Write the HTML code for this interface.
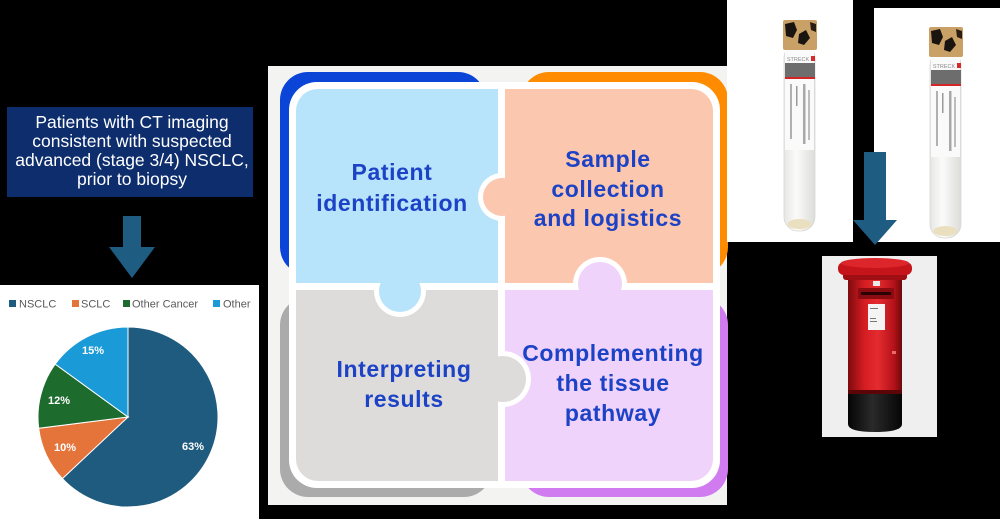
<!DOCTYPE html>
<html><head><meta charset="utf-8"><style>
html,body{margin:0;padding:0;background:#000;}
svg{display:block}
</style></head><body>
<svg width="1000" height="519" viewBox="0 0 1000 519" xmlns="http://www.w3.org/2000/svg">
<defs>
 <clipPath id="cBlue"><rect x="370" y="283" width="60" height="50"/></clipPath>
 <clipPath id="cPeach"><rect x="465" y="165" width="40" height="65"/></clipPath>
 <clipPath id="cPurple"><rect x="565" y="250" width="70" height="40"/></clipPath>
 <clipPath id="cGray"><rect x="498" y="345" width="40" height="70"/></clipPath>
 <linearGradient id="pbBody" x1="0" x2="1" y1="0" y2="0">
  <stop offset="0" stop-color="#7e0a0e"/><stop offset="0.3" stop-color="#d41d22"/>
  <stop offset="0.55" stop-color="#e42b2f"/><stop offset="0.85" stop-color="#b5121a"/>
  <stop offset="1" stop-color="#6e080b"/>
 </linearGradient>
 <linearGradient id="pbBase" x1="0" x2="1" y1="0" y2="0">
  <stop offset="0" stop-color="#050505"/><stop offset="0.45" stop-color="#2a2a2a"/>
  <stop offset="1" stop-color="#060606"/>
 </linearGradient>
 <linearGradient id="tubeG" x1="0" x2="1" y1="0" y2="0">
  <stop offset="0" stop-color="#e6e6e3"/><stop offset="0.4" stop-color="#fbfbfa"/>
  <stop offset="1" stop-color="#dcdcd8"/>
 </linearGradient>
</defs>
<rect width="1000" height="519" fill="#000"/>

<!-- Left: patient box -->
<rect x="7" y="107" width="246" height="90" fill="#0d2d6c"/>
<g font-family="Liberation Sans, Arial, sans-serif" font-size="17.5" fill="#ffffff" text-anchor="middle">
 <text x="132" y="128">Patients with CT imaging</text>
 <text x="132" y="147">consistent with suspected</text>
 <text x="132" y="166">advanced (stage 3/4) NSCLC,</text>
 <text x="132" y="185">prior to biopsy</text>
</g>
<!-- Left arrow -->
<polygon points="123,216 141,216 141,247 155,247 132,278 109,247 123,247" fill="#1f5c82"/>

<!-- Pie chart -->
<rect x="0" y="285" width="259" height="234" fill="#ffffff"/>
<g font-family="Liberation Sans, Arial, sans-serif" font-size="11" fill="#595959">
 <rect x="9" y="300" width="7" height="7" fill="#1f5b7f"/><text x="19" y="307.5">NSCLC</text>
 <rect x="72" y="300" width="7" height="7" fill="#e5743b"/><text x="81" y="307.5">SCLC</text>
 <rect x="123" y="300" width="7" height="7" fill="#1e6b2e"/><text x="132" y="307.5">Other Cancer</text>
 <rect x="213" y="300" width="7" height="7" fill="#1a9ad6"/><text x="223" y="307.5">Other</text>
</g>
<g stroke="#ffffff" stroke-width="1">
 <path d="M128,417 L128,327 A90,90 0 1 1 62.4,478.6 Z" fill="#1f5b7f"/>
 <path d="M128,417 L62.4,478.6 A90,90 0 0 1 38.7,428.3 Z" fill="#e5743b"/>
 <path d="M128,417 L38.7,428.3 A90,90 0 0 1 55.2,364.1 Z" fill="#1e6b2e"/>
 <path d="M128,417 L55.2,364.1 A90,90 0 0 1 128,327 Z" fill="#1a9ad6"/>
</g>
<g font-family="Liberation Sans, Arial, sans-serif" font-size="11" font-weight="bold" fill="#ffffff" text-anchor="middle">
 <text x="193" y="450">63%</text>
 <text x="65" y="451">10%</text>
 <text x="59" y="404">12%</text>
 <text x="93" y="354">15%</text>
</g>

<!-- Puzzle panel -->
<rect x="268" y="66" width="459" height="439" fill="#f3f3f2"/>
<rect x="280" y="72" width="206" height="203" rx="28" fill="#0a45d8"/>
<rect x="521" y="72" width="207" height="203" rx="28" fill="#ff8c00"/>
<rect x="280" y="297" width="212" height="200" rx="28" fill="#ababab"/>
<rect x="521" y="297" width="207" height="200" rx="28" fill="#d07cf0"/>
<rect x="289" y="82" width="431" height="406" rx="28" fill="#ffffff"/>

<path d="M296,283 V111 A22,22 0 0 1 318,89 H498 V283 Z" fill="#b7e3fb"/>
<path d="M505,89 H691 A22,22 0 0 1 713,111 V283 H505 Z" fill="#fbc7ae"/>
<path d="M296,290 H498 V481 H318 A22,22 0 0 1 296,459 Z" fill="#dedcda"/>
<path d="M505,290 H713 V459 A22,22 0 0 1 691,481 H505 Z" fill="#efd3fb"/>

<!-- knobs -->
<g clip-path="url(#cBlue)"><circle cx="400" cy="291" r="26" fill="#fff"/><circle cx="400" cy="291" r="21" fill="#b7e3fb"/></g>
<g clip-path="url(#cPeach)"><circle cx="502" cy="197" r="24" fill="#fff"/><circle cx="502" cy="197" r="19" fill="#fbc7ae"/></g>
<g clip-path="url(#cPurple)"><circle cx="600" cy="284" r="27" fill="#fff"/><circle cx="600" cy="284" r="22" fill="#efd3fb"/></g>
<g clip-path="url(#cGray)"><circle cx="503" cy="379" r="28" fill="#fff"/><circle cx="503" cy="379" r="23" fill="#dedcda"/></g>

<g font-family="Liberation Sans, Arial, sans-serif" font-size="23" font-weight="bold" fill="#1c42c6" text-anchor="middle" letter-spacing="0.6">
 <text x="392" y="180">Patient</text>
 <text x="392" y="211">identification</text>
 <text x="608" y="167">Sample</text>
 <text x="608" y="197">collection</text>
 <text x="608" y="226">and logistics</text>
 <text x="404" y="377">Interpreting</text>
 <text x="404" y="407">results</text>
 <text x="613" y="361">Complementing</text>
 <text x="613" y="391">the tissue</text>
 <text x="613" y="421">pathway</text>
</g>

<!-- Tube boxes -->
<rect x="727" y="0" width="126" height="242" fill="#ffffff"/>
<rect x="874" y="8" width="126" height="234" fill="#ffffff"/>

<!-- Tube 1 -->
<g>
 <rect x="784" y="44" width="31" height="187" rx="14" fill="url(#tubeG)" stroke="#d8d8d4" stroke-width="0.8"/>
 <ellipse cx="799.5" cy="224" rx="12" ry="5" fill="#eadfbf"/>
 <rect x="783" y="20" width="34" height="30" rx="2" fill="#c9a167"/>
 <polygon points="785,24 794,22 797,30 793,38 786,36" fill="#1a1410"/>
 <polygon points="799,34 806,30 810,38 804,45 798,43" fill="#1a1410"/>
 <polygon points="810,22 816,24 816,32 811,30" fill="#2a1e14"/>
 <rect x="785" y="50" width="29" height="100" fill="#fafafa"/>
 <text x="798" y="61" font-family="Liberation Sans, Arial, sans-serif" font-size="5.5" fill="#8a8a8a" text-anchor="middle">STRECK</text>
 <rect x="811" y="56" width="4" height="5" fill="#d62a2a"/>
 <rect x="785" y="63" width="30" height="14" fill="#6d6d6d"/>
 <rect x="785" y="77" width="30" height="2" fill="#d32525"/>
 <rect x="790" y="84" width="2" height="55" fill="#b0b0b0"/>
 <rect x="796" y="86" width="1.5" height="20" fill="#9a9a9a"/>
 <rect x="803" y="84" width="2.5" height="60" fill="#a8a8a8"/>
 <rect x="808" y="90" width="2" height="50" fill="#bdbdbd"/>
</g>
<!-- Tube 2 -->
<g transform="translate(146,7)">
 <rect x="784" y="44" width="31" height="187" rx="14" fill="url(#tubeG)" stroke="#d8d8d4" stroke-width="0.8"/>
 <ellipse cx="799.5" cy="224" rx="12" ry="5" fill="#eadfbf"/>
 <rect x="783" y="20" width="34" height="30" rx="2" fill="#c9a167"/>
 <polygon points="785,24 794,22 797,30 793,38 786,36" fill="#1a1410"/>
 <polygon points="799,34 806,30 810,38 804,45 798,43" fill="#1a1410"/>
 <polygon points="810,22 816,24 816,32 811,30" fill="#2a1e14"/>
 <rect x="785" y="50" width="29" height="100" fill="#fafafa"/>
 <text x="798" y="61" font-family="Liberation Sans, Arial, sans-serif" font-size="5.5" fill="#8a8a8a" text-anchor="middle">STRECK</text>
 <rect x="811" y="56" width="4" height="5" fill="#d62a2a"/>
 <rect x="785" y="63" width="30" height="14" fill="#6d6d6d"/>
 <rect x="785" y="77" width="30" height="2" fill="#d32525"/>
 <rect x="790" y="84" width="2" height="55" fill="#b0b0b0"/>
 <rect x="796" y="86" width="1.5" height="20" fill="#9a9a9a"/>
 <rect x="803" y="84" width="2.5" height="60" fill="#a8a8a8"/>
 <rect x="808" y="90" width="2" height="50" fill="#bdbdbd"/>
</g>

<!-- Right arrow -->
<polygon points="864,152 886,152 886,220 897,220 875,245 853,220 864,220" fill="#1f5c82"/>

<!-- Postbox -->
<rect x="822" y="256" width="115" height="181" fill="#efefef"/>
<path d="M848,392 H902 V424 Q902,432 875,432 Q848,432 848,424 Z" fill="url(#pbBase)"/>
<rect x="848" y="276" width="54" height="118" fill="url(#pbBody)"/>
<rect x="848" y="390" width="54" height="4" fill="#5a0608"/>
<rect x="843" y="272" width="64" height="8" rx="3" fill="#9e0e13"/>
<rect x="838" y="262" width="74" height="13" rx="6" fill="#c5141a"/>
<ellipse cx="875" cy="263" rx="34" ry="5" fill="#dc262b"/>
<rect x="873" y="281" width="7" height="5" fill="#eaeaea"/>
<rect x="858" y="288" width="36" height="11" rx="1" fill="#8a0b10"/>
<rect x="861" y="292" width="30" height="3" fill="#2a0203"/>
<rect x="868" y="304" width="17" height="26" fill="#f4f4f4"/>
<rect x="870" y="308" width="8" height="1" fill="#777"/>
<rect x="870" y="318" width="6" height="1" fill="#777"/>
<rect x="870" y="321" width="7" height="1" fill="#777"/>
<rect x="892" y="351" width="4" height="3" fill="#e86a6a"/>
</svg>
</body></html>
